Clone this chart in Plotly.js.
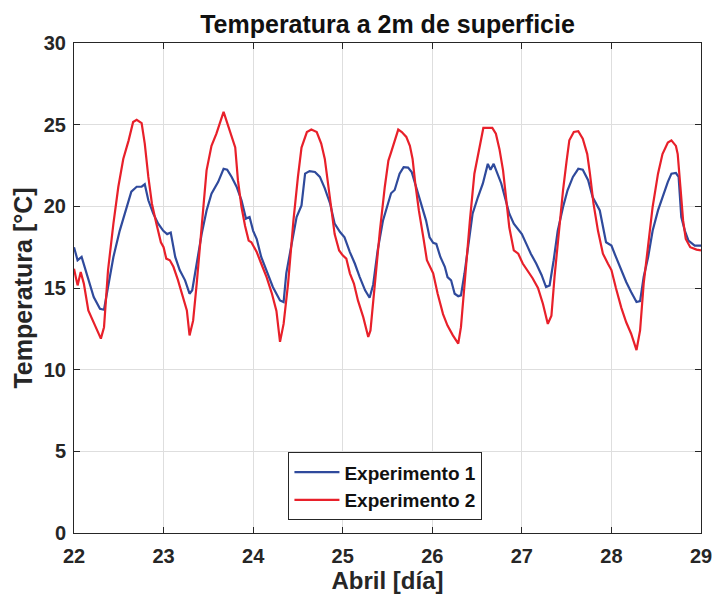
<!DOCTYPE html>
<html>
<head>
<meta charset="utf-8">
<script src="https://cdn.plot.ly/plotly-3.0.1.min.js"></script>
<style>
  html, body { margin: 0; padding: 0; background: #ffffff; }
  #chart { width: 713px; height: 601px; }
</style>
</head>
<body>
<div id="chart"></div>
<script>
// Experimento 1: time (April day) and 2 m temperature (°C)
const dayExp1 = [
  22.0, 22.04, 22.085, 22.14, 22.22, 22.29, 22.335, 22.38, 22.44, 22.51, 22.59, 22.64, 22.70, 22.755, 22.79,
  22.83, 22.885, 22.94, 22.997, 23.04, 23.08, 23.13, 23.18, 23.24, 23.29, 23.32, 23.37, 23.425, 23.48, 23.535,
  23.61, 23.67, 23.71, 23.76, 23.815, 23.87, 23.92, 23.96, 24.0, 24.04, 24.09, 24.15, 24.22, 24.30, 24.34,
  24.37, 24.43, 24.485, 24.54, 24.58, 24.63, 24.69, 24.745, 24.80, 24.86, 24.91, 24.97, 25.02, 25.08, 25.135,
  25.19, 25.25, 25.30, 25.34, 25.39, 25.45, 25.505, 25.54, 25.58, 25.635, 25.68, 25.73, 25.77, 25.82, 25.88,
  25.93, 25.97, 26.01, 26.045, 26.09, 26.14, 26.17, 26.21, 26.25, 26.29, 26.32, 26.36, 26.41, 26.45, 26.51,
  26.565, 26.62, 26.65, 26.685, 26.73, 26.77, 26.81, 26.86, 26.91, 26.96, 27.0, 27.05, 27.10, 27.16, 27.22,
  27.27, 27.31, 27.355, 27.40, 27.46, 27.51, 27.57, 27.63, 27.68, 27.74, 27.79, 27.87, 27.94, 28.0, 28.05,
  28.11, 28.165, 28.22, 28.28, 28.32, 28.36, 28.41, 28.46, 28.52, 28.57, 28.63, 28.67, 28.72, 28.75, 28.78,
  28.82, 28.86, 28.93, 29.0
];
const tempExp1 = [
  17.5, 16.7, 16.9, 15.9, 14.45, 13.73, 13.67, 15.06, 16.9, 18.5, 19.96, 20.9, 21.2, 21.2, 21.35,
  20.37, 19.55, 18.94, 18.5, 18.3, 18.4, 16.9, 16.1, 15.47, 14.65, 14.86, 16.5, 18.3, 19.75, 20.78,
  21.5, 22.3, 22.24, 21.8, 21.2, 20.37, 19.25, 19.35, 18.5, 18.0, 16.9, 16.1, 15.06, 14.24, 14.14,
  15.9, 17.7, 19.35, 20.06, 22.0, 22.16, 22.1, 21.8, 21.1, 20.16, 18.94, 18.43, 18.1, 17.2, 16.5,
  15.67, 14.86, 14.4, 15.2, 17.3, 19.14, 20.16, 20.8, 21.0, 22.0, 22.4, 22.37, 22.1, 21.2, 20.16,
  19.14, 18.1, 17.76, 17.7, 16.9, 16.3, 15.67, 15.47, 14.65, 14.5, 14.55, 15.9, 18.1, 19.55, 20.57,
  21.4, 22.6, 22.24, 22.6, 22.0, 21.4, 20.57, 19.55, 18.94, 18.6, 18.3, 17.7, 17.1, 16.5, 15.8,
  15.06, 15.16, 16.7, 18.5, 19.96, 20.98, 21.8, 22.3, 22.24, 21.6, 20.57, 19.75, 17.8, 17.6, 16.9,
  16.1, 15.37, 14.76, 14.14, 14.2, 15.67, 16.9, 18.5, 19.75, 20.57, 21.5, 22.0, 22.04, 21.8, 19.35,
  18.5, 17.9, 17.6, 17.6
];

// Experimento 2: time (April day) and 2 m temperature (°C)
const dayExp2 = [
  22.0, 22.04, 22.075, 22.11, 22.16, 22.22, 22.26, 22.30, 22.335, 22.38, 22.44, 22.495, 22.55, 22.61, 22.66,
  22.70, 22.755, 22.79, 22.83, 22.87, 22.92, 22.97, 23.0, 23.03, 23.07, 23.11, 23.16, 23.22, 23.26, 23.29,
  23.33, 23.37, 23.425, 23.48, 23.535, 23.59, 23.67, 23.72, 23.76, 23.80, 23.83, 23.87, 23.91, 23.95, 23.98,
  24.04, 24.09, 24.15, 24.21, 24.26, 24.30, 24.34, 24.39, 24.45, 24.50, 24.54, 24.60, 24.65, 24.71, 24.76,
  24.80, 24.84, 24.875, 24.91, 24.96, 25.0, 25.04, 25.08, 25.125, 25.17, 25.23, 25.285, 25.31, 25.36, 25.415,
  25.47, 25.51, 25.54, 25.58, 25.62, 25.66, 25.71, 25.75, 25.78, 25.81, 25.85, 25.90, 25.94, 26.01, 26.06,
  26.12, 26.17, 26.23, 26.29, 26.32, 26.36, 26.42, 26.47, 26.53, 26.57, 26.62, 26.67, 26.71, 26.75, 26.79,
  26.83, 26.86, 26.91, 26.96, 27.01, 27.07, 27.12, 27.18, 27.235, 27.29, 27.33, 27.365, 27.41, 27.46, 27.50,
  27.53, 27.58, 27.63, 27.68, 27.73, 27.76, 27.80, 27.85, 27.905, 27.96, 28.0, 28.05, 28.11, 28.165, 28.22,
  28.28, 28.32, 28.36, 28.41, 28.46, 28.52, 28.57, 28.63, 28.67, 28.72, 28.74, 28.77, 28.80, 28.83, 28.88,
  28.95, 29.0
];
const tempExp2 = [
  16.18, 15.16, 15.98, 15.27, 13.63, 12.92, 12.4, 11.9, 12.6, 16.1, 18.94, 21.2, 22.9, 24.04, 25.16,
  25.3, 25.1, 23.84, 21.8, 20.16, 18.94, 17.8, 17.5, 16.8, 16.7, 16.3, 15.5, 14.45, 13.63, 12.1,
  13.0, 15.27, 18.5, 22.2, 23.7, 24.45, 25.78, 24.96, 24.35, 23.6, 21.6, 19.96, 18.8, 17.9, 17.8,
  17.2, 16.5, 15.67, 14.65, 13.6, 11.7, 12.8, 15.27, 19.14, 21.8, 23.6, 24.55, 24.7, 24.55, 23.84,
  22.9, 21.2, 19.55, 18.3, 17.3, 17.0, 16.8, 15.9, 15.27, 14.24, 13.2, 12.0, 12.4, 15.5, 18.5,
  21.2, 22.8, 23.3, 24.04, 24.7, 24.55, 24.25, 23.7, 22.9, 21.4, 19.75, 18.1, 16.7, 15.9, 14.65,
  13.4, 12.7, 12.1, 11.6, 12.6, 15.27, 19.14, 22.0, 23.7, 24.8, 24.8, 24.8, 24.45, 23.5, 22.2,
  20.16, 18.7, 17.3, 17.1, 16.5, 16.0, 15.6, 15.0, 14.04, 12.8, 13.3, 15.7, 18.3, 21.0, 22.8,
  24.04, 24.55, 24.6, 24.14, 23.2, 22.0, 20.16, 18.5, 17.1, 16.5, 16.1, 15.0, 13.8, 12.9, 12.2,
  11.2, 12.4, 15.27, 17.7, 19.96, 22.0, 23.2, 23.9, 24.04, 23.7, 23.2, 21.2, 19.14, 18.0, 17.5,
  17.35, 17.3
];

const xTicks = [22, 23, 24, 25, 26, 27, 28, 29];
const yTicks = [0, 5, 10, 15, 20, 25, 30];

const FONT = 'Liberation Sans, Arial, Helvetica, sans-serif';
const INK = '#262626';

const traces = [
  {
    x: dayExp1, y: tempExp1, type: 'scatter', mode: 'lines',
    name: 'Experimento 1',
    line: { color: '#2F4A9C', width: 2.2 }
  },
  {
    x: dayExp2, y: tempExp2, type: 'scatter', mode: 'lines',
    name: 'Experimento 2',
    line: { color: '#E8202A', width: 2.2 }
  }
];

const axisCommon = {
  showline: true, linecolor: INK, linewidth: 1, mirror: 'ticks',
  ticks: 'inside', ticklen: 6, tickcolor: INK, tickwidth: 1,
  showgrid: true, gridcolor: '#dedede', gridwidth: 1,
  zeroline: false,
  tickfont: { family: FONT, size: 20, color: INK, weight: 'bold' }
};

const layout = {
  width: 713, height: 601,
  margin: { l: 74, r: 12, t: 43, b: 68 },
  paper_bgcolor: '#ffffff', plot_bgcolor: '#ffffff',
  title: {
    text: 'Temperatura a 2m de superficie',
    font: { family: FONT, size: 25, color: '#111111', weight: 'bold' },
    xref: 'paper', x: 0.5, xanchor: 'center',
    y: 0.96, yanchor: 'middle'
  },
  xaxis: Object.assign({}, axisCommon, {
    range: [22, 29], tickvals: xTicks, ticktext: xTicks.map(String),
    ticklabelstandoff: 5,
    title: { text: 'Abril [día]', font: { family: FONT, size: 24, color: INK, weight: 'bold' }, standoff: 4 }
  }),
  yaxis: Object.assign({}, axisCommon, {
    range: [0, 30], tickvals: yTicks, ticktext: yTicks.map(String),
    ticklabelstandoff: 3,
    title: { text: 'Temperatura [°C]', font: { family: FONT, size: 25, color: INK, weight: 'bold' }, standoff: 4 }
  }),
  showlegend: true,
  legend: {
    x: 0.342, y: 0.026, xanchor: 'left', yanchor: 'bottom',
    bgcolor: '#ffffff', bordercolor: INK, borderwidth: 1,
    font: { family: FONT, size: 19, color: '#111111', weight: 'bold' },
    itemwidth: 45, tracegroupgap: 0
  }
};

Plotly.newPlot('chart', traces, layout, { staticPlot: true, displayModeBar: false });
</script>
</body>
</html>
